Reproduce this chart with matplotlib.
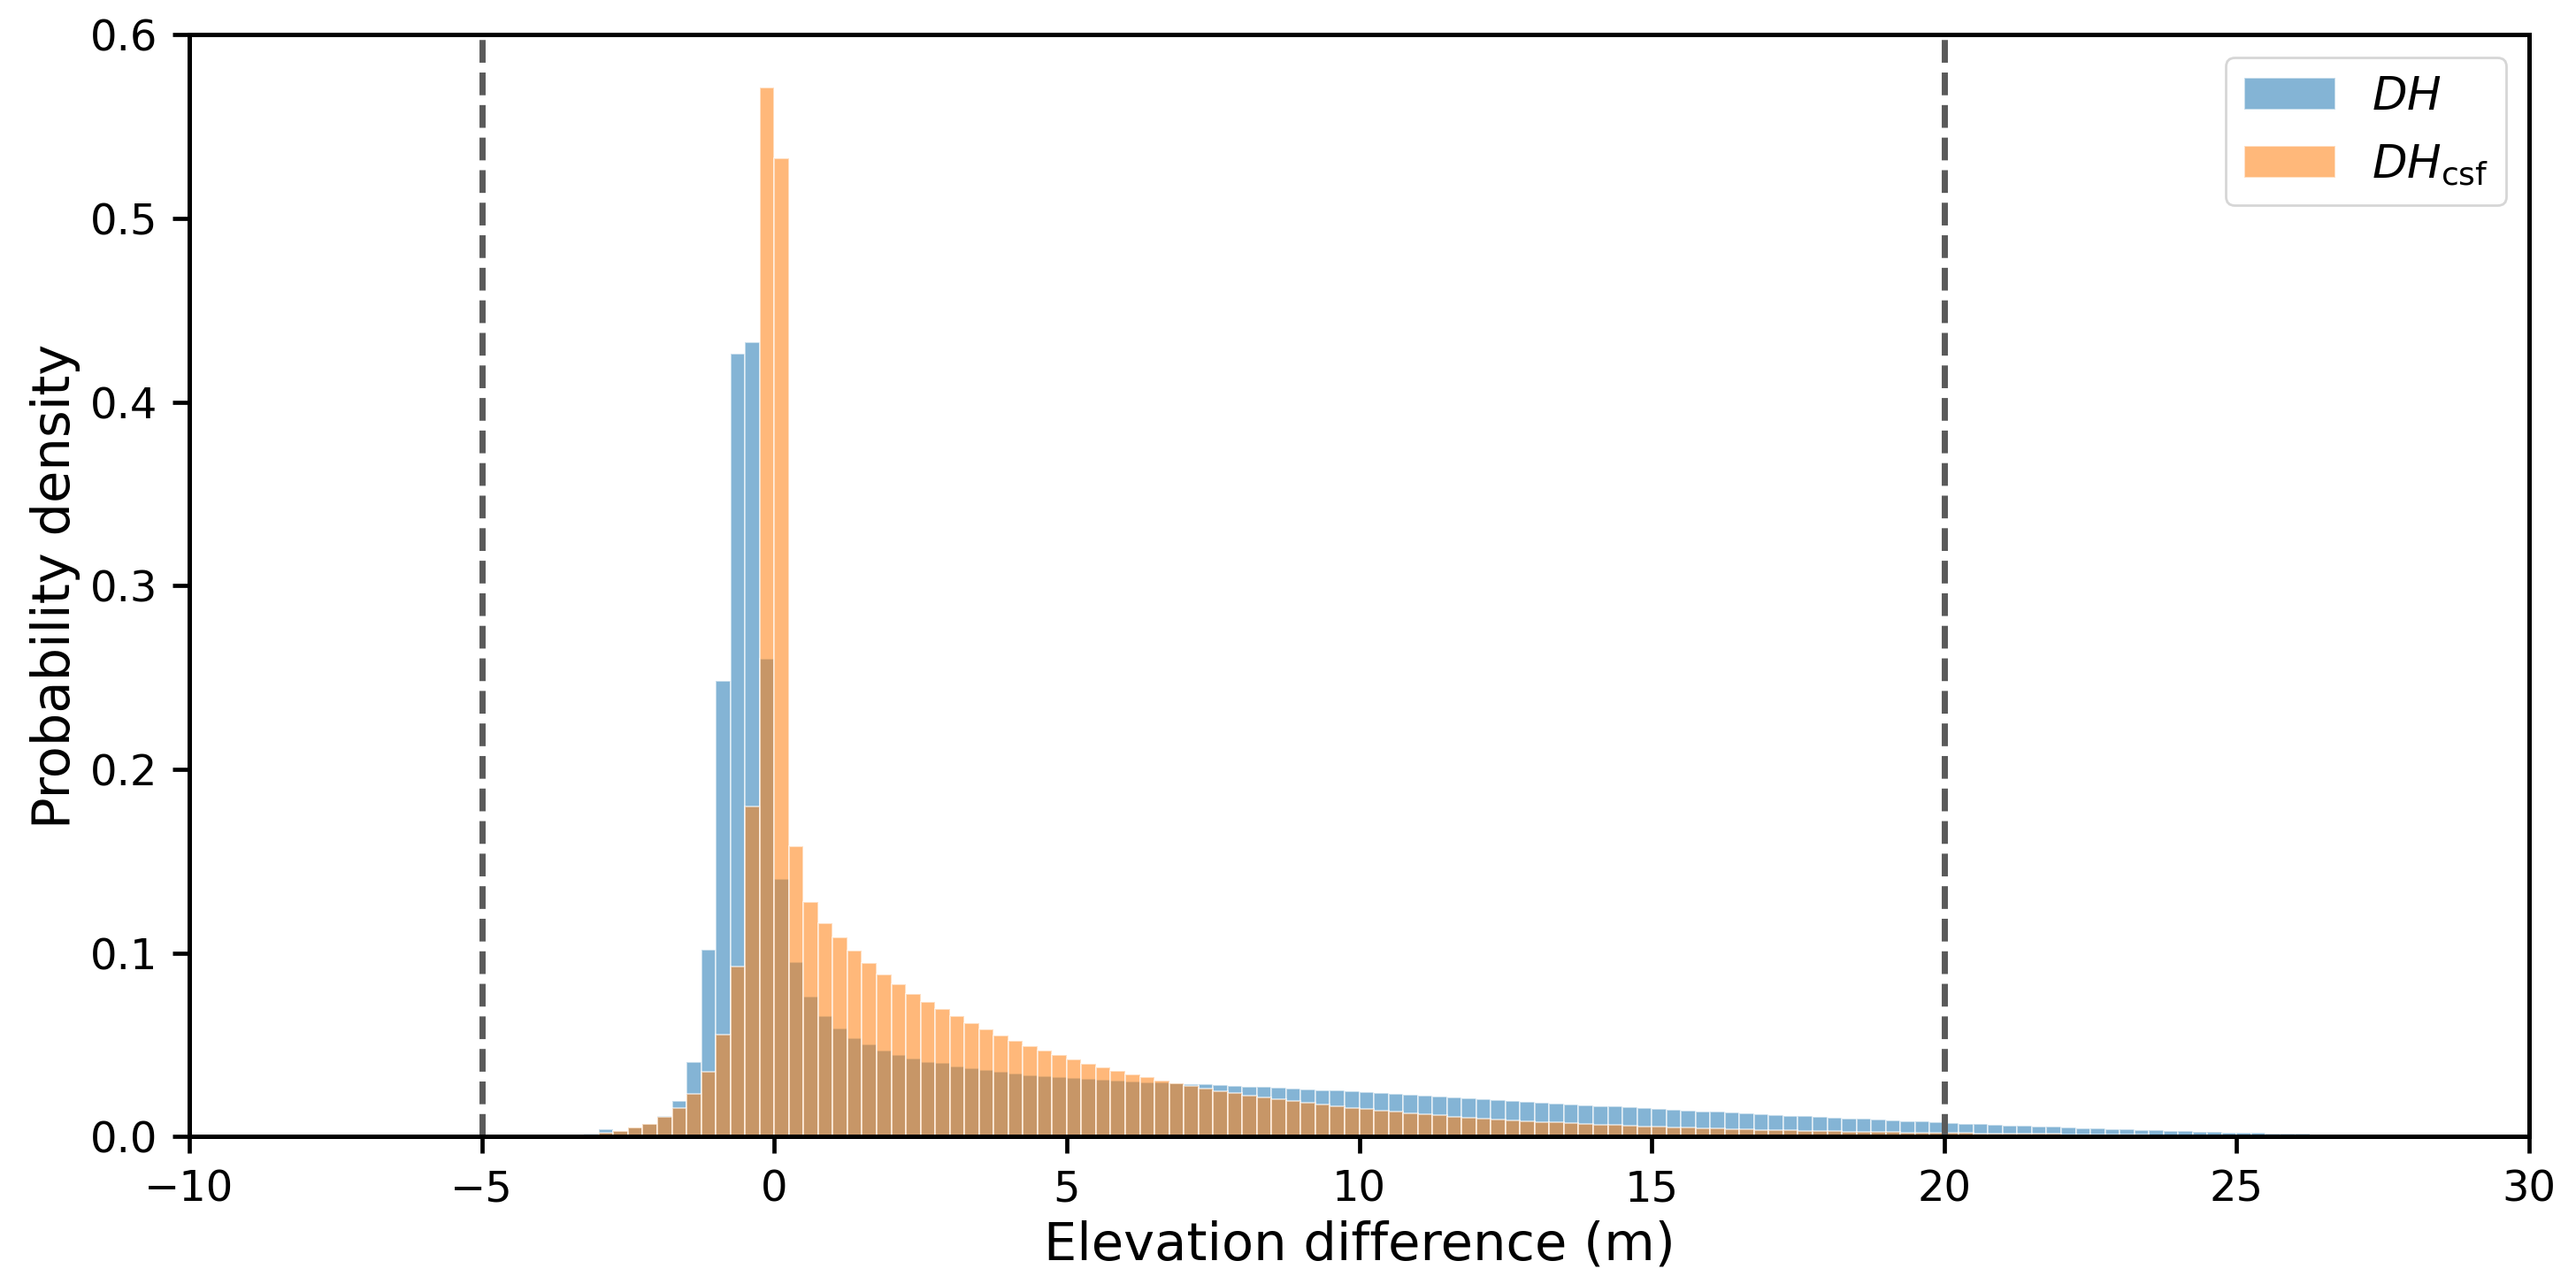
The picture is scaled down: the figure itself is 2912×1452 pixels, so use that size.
import numpy as np
import matplotlib
matplotlib.use("Agg")
import matplotlib.pyplot as plt

# Histogram densities, 0.25 m bins starting at -3.5 m
bin_start = -3.5
bin_width = 0.25

dh = [
    0.0010, 0.0019, 0.0039, 0.0030, 0.0049, 0.0069, 0.0111, 0.0195, 0.0405, 0.1020,
    0.2480, 0.4265, 0.4327, 0.2600, 0.1404, 0.0950, 0.0762, 0.0656, 0.0588, 0.0535,
    0.0502, 0.0468, 0.0444, 0.0424, 0.0405, 0.0400, 0.0381, 0.0374, 0.0364, 0.0354,
    0.0345, 0.0335, 0.0330, 0.0326, 0.0321, 0.0316, 0.0311, 0.0306, 0.0301, 0.0297,
    0.0295, 0.0292, 0.0287, 0.0287, 0.0282, 0.0277, 0.0272, 0.0272, 0.0267, 0.0262,
    0.0258, 0.0253, 0.0253, 0.0248, 0.0243, 0.0239, 0.0234, 0.0229, 0.0224, 0.0219,
    0.0215, 0.0210, 0.0205, 0.0200, 0.0195, 0.0191, 0.0186, 0.0181, 0.0176, 0.0171,
    0.0166, 0.0166, 0.0162, 0.0157, 0.0152, 0.0147, 0.0142, 0.0137, 0.0137, 0.0133,
    0.0128, 0.0123, 0.0118, 0.0113, 0.0113, 0.0108, 0.0104, 0.0099, 0.0099, 0.0094,
    0.0089, 0.0084, 0.0084, 0.0080, 0.0075, 0.0070, 0.0070, 0.0065, 0.0060, 0.0060,
    0.0055, 0.0055, 0.0051, 0.0046, 0.0046, 0.0041, 0.0041, 0.0036, 0.0036, 0.0031,
    0.0031, 0.0027, 0.0027, 0.0022, 0.0022, 0.0022, 0.0017, 0.0017, 0.0017,
]

dh_csf = [
    0.0003, 0.0010, 0.0021, 0.0029, 0.0048, 0.0072, 0.0106, 0.0156, 0.0233, 0.0354,
    0.0556, 0.0928, 0.1800, 0.5711, 0.5326, 0.1580, 0.1278, 0.1162, 0.1085, 0.1013,
    0.0945, 0.0883, 0.0830, 0.0777, 0.0733, 0.0695, 0.0656, 0.0620, 0.0586, 0.0552,
    0.0523, 0.0494, 0.0470, 0.0446, 0.0422, 0.0398, 0.0379, 0.0359, 0.0340, 0.0326,
    0.0306, 0.0292, 0.0277, 0.0263, 0.0248, 0.0239, 0.0224, 0.0215, 0.0205, 0.0195,
    0.0186, 0.0176, 0.0166, 0.0157, 0.0152, 0.0142, 0.0137, 0.0128, 0.0123, 0.0118,
    0.0109, 0.0104, 0.0099, 0.0094, 0.0089, 0.0084, 0.0080, 0.0080, 0.0075, 0.0070,
    0.0065, 0.0065, 0.0060, 0.0055, 0.0055, 0.0051, 0.0051, 0.0046, 0.0046, 0.0041,
    0.0041, 0.0036, 0.0036, 0.0036, 0.0031, 0.0031, 0.0031, 0.0027, 0.0027, 0.0027,
    0.0027, 0.0022, 0.0022, 0.0022, 0.0022, 0.0022, 0.0017, 0.0017, 0.0017, 0.0017,
    0.0017, 0.0017, 0.0012, 0.0012, 0.0012, 0.0011, 0.0010, 0.0010, 0.0009, 0.0009,
    0.0008, 0.0008, 0.0007, 0.0007, 0.0006, 0.0006, 0.0005, 0.0005, 0.0004,
]

# threshold lines
cutoffs = [-5, 20]

left_edges = bin_start + bin_width * np.arange(len(dh))

plt.rcParams["font.family"] = "DejaVu Sans"

fig = plt.figure(figsize=(14.56, 7.26), dpi=200)
ax = fig.add_axes([0.0735, 0.1147, 0.9083, 0.8583])

ax.bar(left_edges, dh, width=bin_width, align="edge", color="tab:blue",
       alpha=0.55, edgecolor="white", linewidth=0.7, label=r"$DH$")
ax.bar(left_edges, dh_csf, width=bin_width, align="edge", color="tab:orange",
       alpha=0.55, edgecolor="white", linewidth=0.7, label=r"$DH_{\mathrm{csf}}$")

for c in cutoffs:
    ax.axvline(c, color="#5a5a5a", linestyle="--", linewidth=2.5)

ax.set_xlim(-10, 30)
ax.set_ylim(0, 0.6)
ax.set_xticks(np.arange(-10, 31, 5))
ax.set_yticks(np.arange(0, 0.61, 0.1))

ax.set_xlabel("Elevation difference (m)", fontsize=21.3)
ax.set_ylabel("Probability density", fontsize=21.3)

ax.tick_params(axis="both", labelsize=17.3, length=6.8, width=1.7, pad=6)
for spine in ax.spines.values():
    spine.set_linewidth(1.8)

ax.legend(loc="upper right", fontsize=18.5)

fig.savefig("out.png", dpi=200)
